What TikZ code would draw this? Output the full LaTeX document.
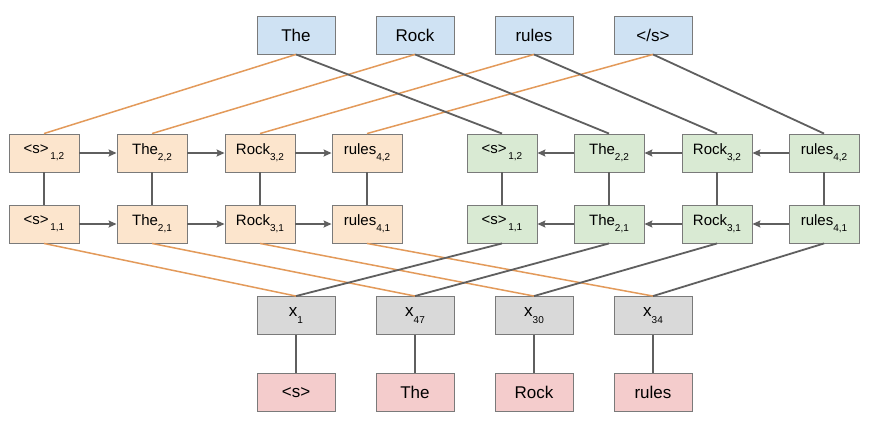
\documentclass[tikz,border=0pt]{standalone}
\usepackage{fontspec}
\setmainfont{Liberation Sans}
\usetikzlibrary{arrows.meta}
\definecolor{topblue}{HTML}{CFE2F3}
\definecolor{fwdfill}{HTML}{FCE5CD}
\definecolor{bwdfill}{HTML}{D9EAD3}
\definecolor{embfill}{HTML}{D9D9D9}
\definecolor{wordfill}{HTML}{F4CCCC}
\definecolor{boxline}{HTML}{7A7A7A}
\definecolor{linkgray}{HTML}{5F5F5F}
\definecolor{linkorange}{HTML}{E39A5A}
\newcommand\subs[1]{\raisebox{-0.8ex}{\fontsize{10}{10}\selectfont #1}}
\tikzset{
	wordbox/.style={draw=boxline,line width=0.9pt,minimum width=78pt,minimum height=38pt,inner sep=0pt,font=\fontsize{17}{20}\selectfont},
	cellbox/.style={draw=boxline,line width=0.9pt,minimum width=70pt,minimum height=38pt,inner sep=0pt,font=\fontsize{15}{18}\selectfont},
	graylink/.style={draw=linkgray,line width=1.8pt},
	orangelink/.style={draw=linkorange,line width=1.5pt},
	steparrow/.style={graylink,-{Stealth[length=8pt,width=7pt,inset=1.5pt]}}
}
\begin{document}
\begin{tikzpicture}[x=1pt,y=-1pt]
	   \fill [white] (0,0) rectangle (876,424);
	   \useasboundingbox (0,0) rectangle (876,424);
	   \node [wordbox,fill=topblue] (o1) at (296,35) {The};
	   \node [wordbox,fill=topblue] (o2) at (415,35) {Rock};
	   \node [wordbox,fill=topblue] (o3) at (534,35) {rules};
	   \node [wordbox,fill=topblue] (o4) at (653,35) {</s>};
	   \node [cellbox,fill=fwdfill] (l12) at (44,153) {<s>\subs{\,1,2}};
	   \node [cellbox,fill=fwdfill] (l22) at (152,153) {The\subs{2,2}};
	   \node [cellbox,fill=fwdfill] (l32) at (260,153) {Rock\subs{3,2}};
	   \node [cellbox,fill=fwdfill] (l42) at (367,153) {rules\subs{4,2}};
	   \node [cellbox,fill=fwdfill] (l11) at (44,224) {<s>\subs{\,1,1}};
	   \node [cellbox,fill=fwdfill] (l21) at (152,224) {The\subs{2,1}};
	   \node [cellbox,fill=fwdfill] (l31) at (260,224) {Rock\subs{3,1}};
	   \node [cellbox,fill=fwdfill] (l41) at (367,224) {rules\subs{4,1}};
	   \node [cellbox,fill=bwdfill] (r12) at (502,153) {<s>\subs{\,1,2}};
	   \node [cellbox,fill=bwdfill] (r22) at (609,153) {The\subs{2,2}};
	   \node [cellbox,fill=bwdfill] (r32) at (717,153) {Rock\subs{3,2}};
	   \node [cellbox,fill=bwdfill] (r42) at (824,153) {rules\subs{4,2}};
	   \node [cellbox,fill=bwdfill] (r11) at (502,224) {<s>\subs{\,1,1}};
	   \node [cellbox,fill=bwdfill] (r21) at (609,224) {The\subs{2,1}};
	   \node [cellbox,fill=bwdfill] (r31) at (717,224) {Rock\subs{3,1}};
	   \node [cellbox,fill=bwdfill] (r41) at (824,224) {rules\subs{4,1}};
	   \node [wordbox,fill=embfill] (e1) at (296,315.5) {x\subs{1}};
	   \node [wordbox,fill=embfill] (e2) at (415,315.5) {x\subs{47}};
	   \node [wordbox,fill=embfill] (e3) at (534,315.5) {x\subs{30}};
	   \node [wordbox,fill=embfill] (e4) at (653,315.5) {x\subs{34}};
	   \node [wordbox,fill=wordfill] (w1) at (296,392.5) {<s>};
	   \node [wordbox,fill=wordfill] (w2) at (415,392.5) {The};
	   \node [wordbox,fill=wordfill] (w3) at (534,392.5) {Rock};
	   \node [wordbox,fill=wordfill] (w4) at (653,392.5) {rules};
	   \draw [orangelink] (o1.south) -- (l12.north);
	   \draw [orangelink] (o2.south) -- (l22.north);
	   \draw [orangelink] (o3.south) -- (l32.north);
	   \draw [orangelink] (o4.south) -- (l42.north);
	   \draw [graylink] (o1.south) -- (r12.north);
	   \draw [graylink] (o2.south) -- (r22.north);
	   \draw [graylink] (o3.south) -- (r32.north);
	   \draw [graylink] (o4.south) -- (r42.north);
	   \draw [orangelink] (l11.south) -- (e1.north);
	   \draw [orangelink] (l21.south) -- (e2.north);
	   \draw [orangelink] (l31.south) -- (e3.north);
	   \draw [orangelink] (l41.south) -- (e4.north);
	   \draw [graylink] (r11.south) -- (e1.north);
	   \draw [graylink] (r21.south) -- (e2.north);
	   \draw [graylink] (r31.south) -- (e3.north);
	   \draw [graylink] (r41.south) -- (e4.north);
	   \draw [steparrow] (l12) -- (l22);
	   \draw [steparrow] (l22) -- (l32);
	   \draw [steparrow] (l32) -- (l42);
	   \draw [steparrow] (l11) -- (l21);
	   \draw [steparrow] (l21) -- (l31);
	   \draw [steparrow] (l31) -- (l41);
	   \draw [steparrow] (r22) -- (r12);
	   \draw [steparrow] (r32) -- (r22);
	   \draw [steparrow] (r42) -- (r32);
	   \draw [steparrow] (r21) -- (r11);
	   \draw [steparrow] (r31) -- (r21);
	   \draw [steparrow] (r41) -- (r31);
	   \draw [graylink] (l12) -- (l11);
	   \draw [graylink] (l22) -- (l21);
	   \draw [graylink] (l32) -- (l31);
	   \draw [graylink] (l42) -- (l41);
	   \draw [graylink] (r12) -- (r11);
	   \draw [graylink] (r22) -- (r21);
	   \draw [graylink] (r32) -- (r31);
	   \draw [graylink] (r42) -- (r41);
	   \draw [graylink] (e1) -- (w1);
	   \draw [graylink] (e2) -- (w2);
	   \draw [graylink] (e3) -- (w3);
	   \draw [graylink] (e4) -- (w4);
\end{tikzpicture}
\end{document}
